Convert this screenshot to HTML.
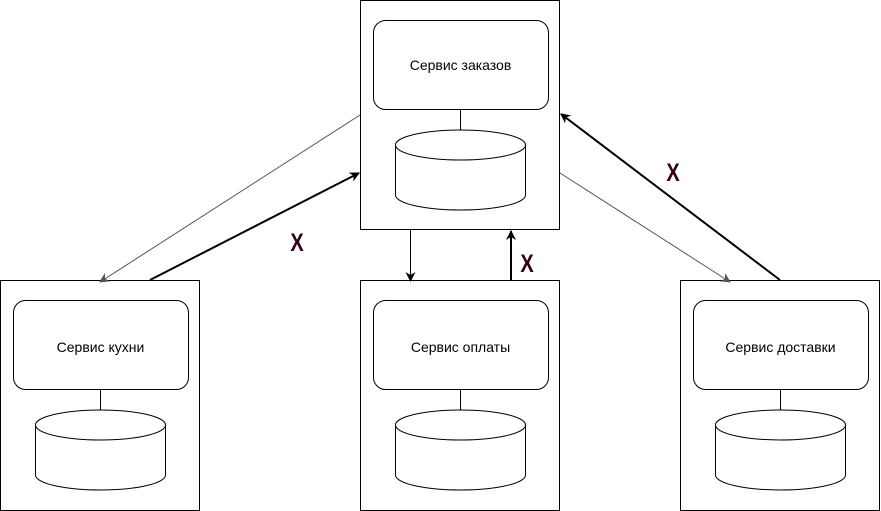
<!DOCTYPE html>
<html><head><meta charset="utf-8"><style>
body{margin:0;background:#fff;width:881px;height:511px;overflow:hidden}
svg{display:block}
text{font-family:"Liberation Sans","DejaVu Sans",sans-serif}
</style></head><body>
<svg width="881" height="511" viewBox="0 0 881 511">
<defs>
<marker id="ah" markerWidth="10" markerHeight="10" refX="9" refY="5" orient="auto" markerUnits="userSpaceOnUse"><path d="M0,0 L10,5 L0,10 L3,5 Z" fill="#000"/></marker>
<marker id="ahg" markerWidth="10" markerHeight="10" refX="9" refY="5" orient="auto" markerUnits="userSpaceOnUse"><path d="M0,0 L10,5 L0,10 L3,5 Z" fill="#555"/></marker>
</defs>
<g fill="none" stroke="#000" stroke-width="1">
<g>
<rect x="360.5" y="0.5" width="199" height="229"/>
<rect x="373.5" y="20.5" width="175" height="89" rx="12"/>
<line x1="460.5" y1="110" x2="460.5" y2="130"/>
<path d="M395.5,145 v50 a65,15 0 0 0 130,0 v-50"/><ellipse cx="460.5" cy="145" rx="65" ry="15"/>
</g>
<g>
<rect x="0.5" y="280.5" width="199" height="230"/>
<rect x="13.5" y="300.5" width="175" height="89" rx="12"/>
<line x1="100.5" y1="390" x2="100.5" y2="410"/>
<path d="M35.5,425 v50 a65,15 0 0 0 130,0 v-50"/><ellipse cx="100.5" cy="425" rx="65" ry="15"/>
</g>
<g>
<rect x="360.5" y="280.5" width="199" height="230"/>
<rect x="373.5" y="300.5" width="175" height="89" rx="12"/>
<line x1="460.5" y1="390" x2="460.5" y2="410"/>
<path d="M395.5,425 v50 a65,15 0 0 0 130,0 v-50"/><ellipse cx="460.5" cy="425" rx="65" ry="15"/>
</g>
<g>
<rect x="680.5" y="280.5" width="199" height="230"/>
<rect x="693.5" y="300.5" width="175" height="89" rx="12"/>
<line x1="780.5" y1="390" x2="780.5" y2="410"/>
<path d="M715.5,425 v50 a65,15 0 0 0 130,0 v-50"/><ellipse cx="780.5" cy="425" rx="65" ry="15"/>
</g>
<line x1="360" y1="115" x2="100" y2="282" stroke="#555" marker-end="url(#ahg)"/>
<line x1="150" y1="280" x2="359" y2="173" stroke-width="2" marker-end="url(#ah)"/>
<line x1="410.5" y1="230" x2="410.5" y2="281" marker-end="url(#ah)"/>
<line x1="511" y1="280" x2="511" y2="231" stroke-width="2" marker-end="url(#ah)"/>
<line x1="560" y1="173" x2="730" y2="282" stroke="#555" marker-end="url(#ahg)"/>
<line x1="780" y1="280" x2="561" y2="114" stroke-width="2" marker-end="url(#ah)"/>
</g>
<g font-size="14" text-anchor="middle" fill="#000">
<text x="460.5" y="70">Сервис заказов</text>
<text x="100.5" y="352">Сервис кухни</text>
<text x="460.5" y="352">Сервис оплаты</text>
<text x="780.5" y="352">Сервис доставки</text>
</g>
<g font-size="25" font-weight="bold" fill="#33001a" text-anchor="middle">
<text transform="translate(297,251) scale(0.8,1)">X</text>
<text transform="translate(527,272) scale(0.8,1)">X</text>
<text transform="translate(673,181) scale(0.8,1)">X</text>
</g>
</svg>
</body></html>
